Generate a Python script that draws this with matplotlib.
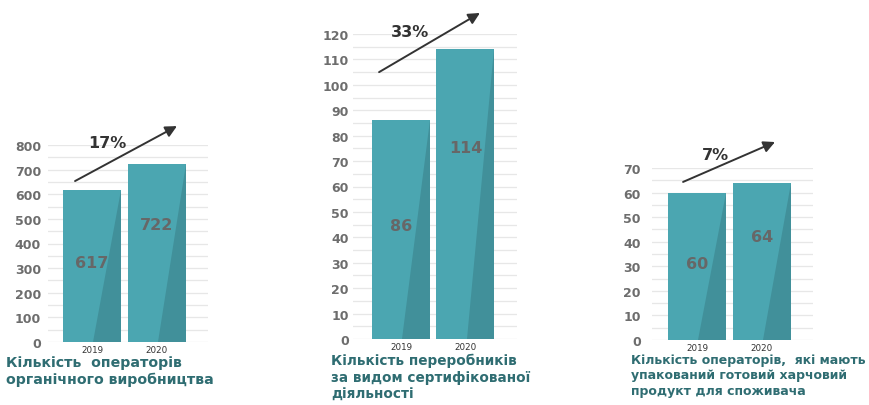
import matplotlib
matplotlib.use("Agg")
import matplotlib.pyplot as plt

# --- data ---
years = ["2019", "2020"]

operators = [617, 722]
processors = [86, 114]
packaged = [60, 64]

ticks_operators = [0, 100, 200, 300, 400, 500, 600, 700, 800]
ticks_processors = [0, 10, 20, 30, 40, 50, 60, 70, 80, 90, 100, 110, 120]
ticks_packaged = [0, 10, 20, 30, 40, 50, 60, 70]

title_operators = "Кількість  операторів\nорганічного виробництва"
title_processors = "Кількість переробників\nза видом сертифікованої\nдіяльності"
title_packaged = "Кількість операторів,  які мають\nупакований готовий харчовий\nпродукт для споживача"

# --- style ---
W, H = 870, 406
LIGHT = "#4ba6b1"
DARK = "#41909a"
GRID = "#e7e7e7"
TICK = "#6d6d6d"
VALUE = "#676767"
ARROW = "#333333"
TITLE = "#2f6d72"
FONT = "DejaVu Sans"

plt.rcParams["font.family"] = [FONT]

fig = plt.figure(figsize=(W / 100, H / 100), dpi=100)
fig.patch.set_facecolor("white")


def px_box(left, right, bottom, top):
    return [left / W, 1 - bottom / H, (right - left) / W, (bottom - top) / H]


def draw_panel(box, values, ticks, xlim, width, arrow_from, arrow_to, pct_xy,
               tick_pad, title, title_xy, title_size):
    ax = fig.add_axes(px_box(*box))
    ax.set_facecolor("none")
    step = ticks[1] - ticks[0]
    ax.set_ylim(ticks[0], ticks[-1])
    ax.set_xlim(*xlim)
    ax.set_yticks(ticks)
    ax.set_yticks([t + step / 2 for t in ticks[:-1]], minor=True)
    ax.grid(axis="y", which="both", color=GRID, lw=0.9, zorder=0)
    ax.tick_params(axis="y", which="both", length=0, pad=tick_pad,
                   labelsize=9, labelcolor=TICK)
    for lab in ax.get_yticklabels():
        lab.set_fontweight("bold")
    xs = list(range(len(values)))
    ax.set_xticks(xs)
    ax.set_xticklabels(years)
    ax.tick_params(axis="x", length=0, pad=2, labelsize=6.3, labelcolor="#333333")
    for s in ax.spines.values():
        s.set_visible(False)

    bars = ax.bar(xs, values, width=width, color=LIGHT, zorder=2)
    label_frac = [0.52, 0.66]
    for i, (b, v) in enumerate(zip(bars, values)):
        x0 = b.get_x()
        x1 = x0 + b.get_width()
        ax.fill([x0 + b.get_width() * 0.52, x1, x1], [0, 0, v],
                color=DARK, zorder=3, lw=0)
        ax.text(b.get_x() + b.get_width() / 2, v * label_frac[i], f"{v}",
                ha="center", va="center", fontsize=11.5, fontweight="bold",
                color=VALUE, zorder=4)

    ax.annotate("", xy=arrow_to, xytext=arrow_from, xycoords="axes fraction",
                textcoords="axes fraction", annotation_clip=False,
                arrowprops=dict(arrowstyle="-|>", color=ARROW, lw=1.4,
                                mutation_scale=17, shrinkA=0, shrinkB=0))
    pct = round((values[1] - values[0]) / values[0] * 100)
    ax.text(*pct_xy, f"{pct}%", transform=ax.transAxes, ha="center", va="center",
            fontsize=11.5, fontweight="bold", color=ARROW, clip_on=False)

    fig.text(title_xy[0] / W, 1 - title_xy[1] / H, title, ha="left", va="top",
             fontsize=title_size, fontweight="bold", color=TITLE,
             linespacing=1.25)
    return ax


draw_panel((48, 208, 343, 146), operators, ticks_operators, (-0.677, 1.785), 0.89,
           (0.169, 0.817), (0.806, 1.096), (0.369, 1.015), 5,
           title_operators, (6, 356), 10.2)

draw_panel((353, 517, 340, 35), processors, ticks_processors, (-0.744, 1.80), 0.90,
           (0.159, 0.875), (0.774, 1.069), (0.348, 1.007), 3,
           title_processors, (331, 354), 9.8)

draw_panel((652, 813, 341, 169), packaged, ticks_packaged, (-0.692, 1.785), 0.89,
           (0.193, 0.919), (0.764, 1.151), (0.391, 1.081), 8,
           title_packaged, (631, 354), 9.0)

fig.savefig("out.png", dpi=100, facecolor="white")
